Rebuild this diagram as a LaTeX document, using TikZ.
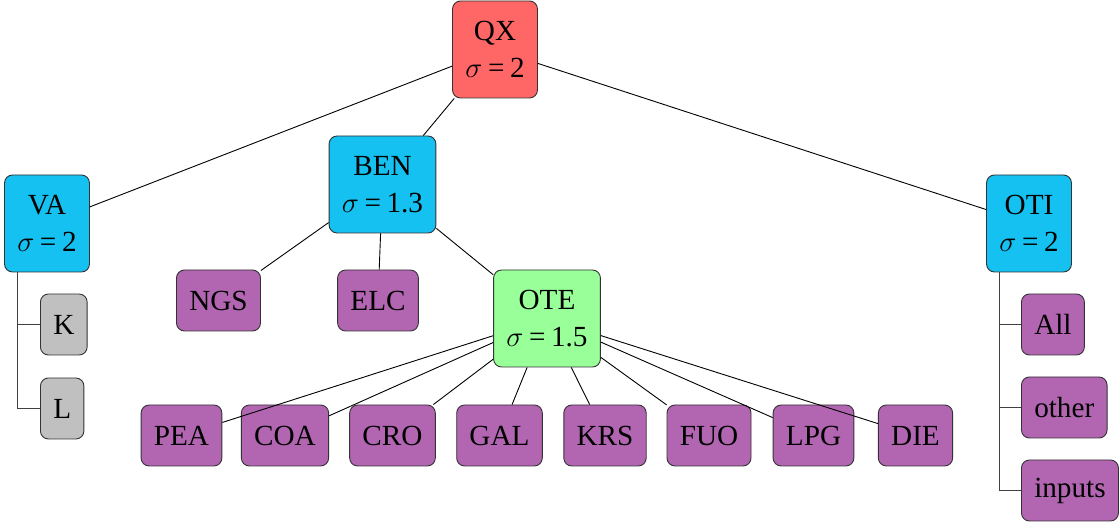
\documentclass[tikz,border=0pt]{standalone}
\usepackage{fontspec}
\setmainfont{Liberation Serif}
\newcommand\sigval[1]{$\thickmuskip=3.5mu\sigma\mathrel{\hbox{=}}\hbox{#1}$}
\begin{document}
\begin{tikzpicture}[x=0.5pt,y=-0.5pt,
  font=\fontsize{14.6}{18.5}\selectfont,
  box/.style={draw=black!80,line width=0.45pt,rounded corners=4pt,inner xsep=6.4pt,inner ysep=0pt,minimum height=30.5pt,align=center},
  twobox/.style={box,minimum height=48.5pt},
  redbox/.style={twobox,fill=qred},
  cyanbox/.style={twobox,fill=qcyan},
  greenbox/.style={twobox,fill=qgreen},
  purplebox/.style={box,fill=qpurple},
  graybox/.style={box,fill=qgray},
  edge/.style={draw=black,line width=0.45pt},
  treeline/.style={draw=black!75,line width=0.45pt}]
\definecolor{qred}{RGB}{255,102,102}
\definecolor{qcyan}{RGB}{20,193,240}
\definecolor{qgreen}{RGB}{153,255,153}
\definecolor{qpurple}{RGB}{178,102,178}
\definecolor{qgray}{RGB}{192,192,192}
\useasboundingbox (0,0) rectangle (1119,522);

\node[redbox] (QX) at (495,49.5) {QX\\\sigval{2}};
\node[cyanbox] (BEN) at (382.5,184.5) {BEN\\\sigval{1.3}};
\node[cyanbox] (VA) at (47,223.5) {VA\\\sigval{2}};
\node[cyanbox] (OTI) at (1029,223.5) {OTI\\\sigval{2}};
\node[purplebox] (NGS) at (218.5,300.5) {NGS};
\node[purplebox] (ELC) at (378,300.5) {ELC};
\node[greenbox] (OTE) at (547,318.5) {OTE\\\sigval{1.5}};

\node[graybox,anchor=west] (K) at (40,324.5) {K};
\node[graybox,anchor=west] (L) at (40,408.5) {L};
\node[purplebox,anchor=west] (All) at (1021,324.5) {All};
\node[purplebox,anchor=west] (other) at (1021,407.5) {other};
\node[purplebox,anchor=west] (inputs) at (1021,490.5) {inputs};

\node[purplebox] (PEA) at (181.5,435.5) {PEA};
\node[purplebox] (COA) at (285,435.5) {COA};
\node[purplebox] (CRO) at (392.5,435.5) {CRO};
\node[purplebox] (GAL) at (499.5,435.5) {GAL};
\node[purplebox] (KRS) at (605,435.5) {KRS};
\node[purplebox] (FUO) at (709,435.5) {FUO};
\node[purplebox] (LPG) at (813.5,435.5) {LPG};
\node[purplebox] (DIE) at (915.5,435.5) {DIE};

\draw[edge] (QX) -- (VA);
\draw[edge] (QX) -- (BEN);
\draw[edge] (QX) -- (OTI);
\draw[edge] (BEN) -- (NGS);
\draw[edge] (BEN) -- (ELC);
\draw[edge] (BEN) -- (OTE);
\foreach \n in {PEA,COA,CRO,GAL,KRS,FUO,LPG,DIE}
  \draw[edge] (OTE) -- (\n);

\draw[treeline] (VA.south -| 17,0) |- (L.west);
\draw[treeline] (17,0 |- K.west) -- (K.west);
\draw[treeline] (OTI.south -| 999,0) |- (inputs.west);
\draw[treeline] (999,0 |- All.west) -- (All.west);
\draw[treeline] (999,0 |- other.west) -- (other.west);
\end{tikzpicture}
\end{document}
